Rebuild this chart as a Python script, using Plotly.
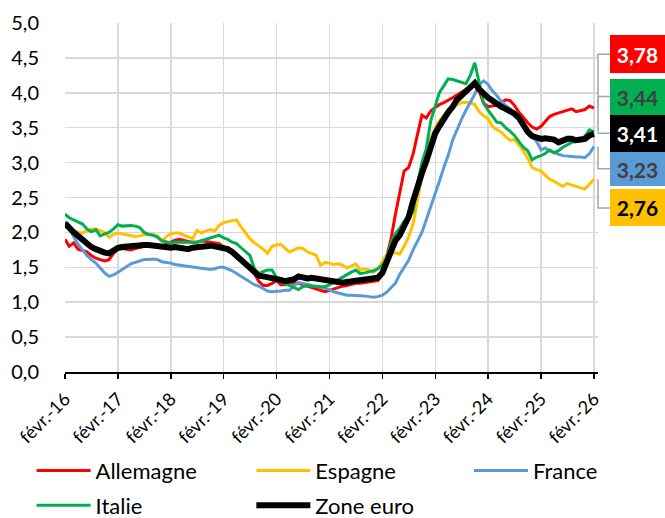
import pandas as pd
import plotly.graph_objects as go

# ---------------- data ----------------
dates = pd.date_range("2016-02-01", periods=121, freq="MS")

allemagne = [
    1.90, 1.80, 1.85, 1.76, 1.74, 1.72, 1.67, 1.63, 1.61, 1.59, 1.61, 1.70,
    1.76, 1.77, 1.76, 1.75, 1.77, 1.79, 1.80, 1.81, 1.81, 1.80, 1.81, 1.83,
    1.86, 1.89, 1.90, 1.88, 1.87, 1.86, 1.86, 1.88, 1.87, 1.86, 1.86, 1.84,
    1.79, 1.74, 1.70, 1.64, 1.60, 1.55, 1.52, 1.40, 1.30, 1.24, 1.24, 1.27,
    1.31, 1.25, 1.25, 1.27, 1.28, 1.27, 1.25, 1.23, 1.20, 1.18, 1.16, 1.15,
    1.17, 1.19, 1.21, 1.23, 1.24, 1.26, 1.27, 1.27, 1.28, 1.29, 1.30, 1.31,
    1.40, 1.62, 1.90, 2.25, 2.55, 2.88, 2.93, 3.12, 3.40, 3.68, 3.64, 3.74,
    3.79, 3.83, 3.86, 3.89, 3.93, 3.97, 4.01, 4.06, 4.10, 4.13, 4.03, 3.85,
    3.80, 3.81, 3.82, 3.86, 3.90, 3.89, 3.82, 3.72, 3.64, 3.57, 3.51, 3.48,
    3.52, 3.59, 3.66, 3.69, 3.71, 3.72, 3.75, 3.77, 3.73, 3.74, 3.76, 3.81,
    3.78,
]

espagne = [
    2.13, 2.05, 2.02, 2.00, 1.99, 2.02, 2.05, 2.05, 2.03, 2.00, 1.93, 1.97,
    1.99, 1.98, 1.97, 1.96, 1.94, 1.95, 1.97, 1.97, 1.97, 1.95, 1.87, 1.94,
    1.98, 1.99, 1.99, 1.96, 1.94, 1.91, 2.03, 1.99, 2.02, 2.04, 2.02, 2.10,
    2.14, 2.15, 2.16, 2.18, 2.08, 2.00, 1.91, 1.85, 1.81, 1.76, 1.70, 1.80,
    1.82, 1.83, 1.77, 1.72, 1.75, 1.78, 1.77, 1.72, 1.70, 1.67, 1.53, 1.57,
    1.56, 1.54, 1.55, 1.53, 1.49, 1.52, 1.55, 1.46, 1.48, 1.46, 1.43, 1.48,
    1.58, 1.68, 1.72, 1.71, 1.69, 1.80, 1.93, 2.12, 2.45, 2.80, 3.07, 3.35,
    3.50, 3.60, 3.67, 3.73, 3.79, 3.83, 3.86, 3.86, 3.86, 3.83, 3.73, 3.67,
    3.63, 3.52, 3.47, 3.44, 3.37, 3.32, 3.33, 3.25, 3.17, 3.06, 2.93, 2.90,
    2.88, 2.82, 2.76, 2.73, 2.70, 2.66, 2.70, 2.68, 2.67, 2.65, 2.62, 2.69,
    2.76,
]

france = [
    2.16, 2.05, 1.93, 1.83, 1.75, 1.67, 1.61, 1.56, 1.49, 1.42, 1.37, 1.39,
    1.43, 1.47, 1.52, 1.55, 1.57, 1.59, 1.61, 1.61, 1.62, 1.61, 1.58, 1.57,
    1.56, 1.54, 1.53, 1.52, 1.51, 1.50, 1.49, 1.48, 1.48, 1.47, 1.48, 1.50,
    1.50, 1.48, 1.45, 1.41, 1.37, 1.32, 1.28, 1.25, 1.23, 1.20, 1.16, 1.15,
    1.15, 1.16, 1.17, 1.17, 1.24, 1.28, 1.27, 1.25, 1.24, 1.23, 1.21, 1.20,
    1.18, 1.15, 1.13, 1.11, 1.10, 1.10, 1.10, 1.10, 1.09, 1.08, 1.07, 1.08,
    1.10, 1.14, 1.20, 1.27, 1.40, 1.50, 1.60, 1.75, 1.88, 2.00, 2.18, 2.36,
    2.55, 2.73, 2.93, 3.10, 3.32, 3.48, 3.62, 3.75, 3.86, 3.98, 4.12, 4.17,
    4.12, 4.03, 3.96, 3.88, 3.82, 3.77, 3.72, 3.63, 3.56, 3.47, 3.39, 3.30,
    3.18, 3.21, 3.17, 3.14, 3.12, 3.10, 3.09, 3.08, 3.08, 3.08, 3.07, 3.13,
    3.23,
]

italie = [
    2.26, 2.21, 2.18, 2.15, 2.12, 2.05, 2.01, 2.04, 1.95, 1.98, 2.00, 2.05,
    2.11, 2.09, 2.10, 2.10, 2.09, 2.07, 2.00, 1.97, 1.96, 1.93, 1.88, 1.86,
    1.85, 1.86, 1.86, 1.87, 1.86, 1.86, 1.86, 1.88, 1.90, 1.91, 1.94, 1.96,
    1.92, 1.90, 1.86, 1.84, 1.78, 1.72, 1.67, 1.48, 1.41, 1.44, 1.46, 1.46,
    1.35, 1.30, 1.26, 1.24, 1.21, 1.18, 1.22, 1.24, 1.23, 1.22, 1.22, 1.22,
    1.25, 1.28, 1.32, 1.36, 1.39, 1.43, 1.46, 1.41, 1.42, 1.43, 1.45, 1.48,
    1.53, 1.63, 1.84, 1.98, 2.06, 2.16, 2.20, 2.30, 2.70, 3.00, 3.20, 3.60,
    3.83, 4.00, 4.10, 4.20, 4.19, 4.17, 4.15, 4.13, 4.25, 4.43, 4.15, 3.85,
    3.75, 3.67, 3.58, 3.57, 3.50, 3.45, 3.39, 3.30, 3.22, 3.17, 3.04, 3.08,
    3.10, 3.13, 3.18, 3.14, 3.17, 3.22, 3.25, 3.29, 3.30, 3.32, 3.38, 3.47,
    3.44,
]

zone_euro = [
    2.13, 2.06, 2.00, 1.95, 1.89, 1.83, 1.79, 1.76, 1.73, 1.71, 1.70, 1.74,
    1.78, 1.79, 1.80, 1.80, 1.81, 1.81, 1.82, 1.82, 1.81, 1.80, 1.79, 1.78,
    1.78, 1.79, 1.78, 1.77, 1.76, 1.78, 1.79, 1.79, 1.80, 1.81, 1.80, 1.79,
    1.79, 1.76, 1.72, 1.66, 1.61, 1.55, 1.49, 1.44, 1.38, 1.37, 1.36, 1.36,
    1.35, 1.32, 1.30, 1.31, 1.33, 1.37, 1.35, 1.34, 1.35, 1.34, 1.32, 1.31,
    1.30, 1.29, 1.28, 1.28, 1.29, 1.30, 1.30, 1.31, 1.31, 1.32, 1.33, 1.35,
    1.42, 1.57, 1.74, 1.88, 1.96, 2.08, 2.22, 2.45, 2.68, 2.85, 3.02, 3.25,
    3.42, 3.52, 3.63, 3.72, 3.80, 3.90, 3.96, 4.02, 4.09, 4.14, 4.05, 3.98,
    3.93, 3.89, 3.84, 3.80, 3.77, 3.74, 3.70, 3.64, 3.54, 3.44, 3.38, 3.35,
    3.34, 3.35, 3.34, 3.33, 3.29, 3.32, 3.34, 3.34, 3.32, 3.33, 3.34, 3.39,
    3.41,
]

series_names = ["Allemagne", "Espagne", "France", "Italie", "Zone euro"]
series_values = [allemagne, espagne, france, italie, zone_euro]

tick_dates = pd.date_range("2016-02-01", periods=11, freq="12MS")
tick_labels = ["févr.-16", "févr.-17", "févr.-18", "févr.-19", "févr.-20",
               "févr.-21", "févr.-22", "févr.-23", "févr.-24", "févr.-25",
               "févr.-26"]

# ---------------- styling ----------------
FONT = "Lato"
colors = {"Allemagne": "#FF0000", "Espagne": "#FFC000", "France": "#5B9BD5",
          "Italie": "#00B050", "Zone euro": "#000000"}
widths = {"Allemagne": 3, "Espagne": 3, "France": 3, "Italie": 3, "Zone euro": 6}
legend_of = {"Allemagne": "legend", "Italie": "legend",
             "Espagne": "legend2", "Zone euro": "legend2",
             "France": "legend3"}
label_text_colors = {"Allemagne": "#FFFFFF", "Espagne": "#000000", "France": "#404040",
                     "Italie": "#404040", "Zone euro": "#FFFFFF"}
# vertical placement of the end-value boxes (in axis units) and their heights (px)
label_pos = {"Allemagne": 4.553, "Italie": 3.946, "Zone euro": 3.421,
             "France": 2.911, "Espagne": 2.35}
label_h = {"Allemagne": 38, "Italie": 36, "Zone euro": 37, "France": 34, "Espagne": 37}

fig = go.Figure()
for name, vals in zip(series_names, series_values):
    fig.add_trace(go.Scatter(
        x=dates, y=vals, name=name, mode="lines",
        line=dict(color=colors[name], width=widths[name]),
        legend=legend_of[name], legendgroup=name,
        hoverinfo="skip",
    ))

box_x = 1.0225
for name, vals in zip(series_names, series_values):
    last = vals[-1]
    ly = label_pos[name]
    fig.add_shape(type="path", xref="paper", yref="y",
                  path=f"M 1.0,{last} L 1.0,{ly} L {box_x},{ly}",
                  line=dict(color="#A6A6A6", width=1.5))
    fig.add_annotation(
        xref="paper", yref="y", x=box_x, y=ly, xanchor="left", yanchor="middle",
        text="<b>" + f"{last:.2f}".replace(".", ",") + "</b>",
        showarrow=False, bgcolor=colors[name], width=55, height=label_h[name],
        borderpad=0, borderwidth=0, align="center", valign="middle",
        font=dict(family=FONT, size=21, color=label_text_colors[name]),
    )

legend_common = dict(orientation="v", xanchor="left", y=-0.2229, yanchor="top",
                     font=dict(family=FONT, size=22, color="#000000"),
                     itemwidth=54, tracegroupgap=3, bgcolor="rgba(0,0,0,0)",
                     borderwidth=0)

fig.update_layout(
    width=665, height=518,
    margin=dict(l=64.5, r=67, t=22.5, b=145.5, autoexpand=False),
    paper_bgcolor="white", plot_bgcolor="white",
    separators=", ",
    font=dict(family=FONT, size=20, color="#000000"),
    showlegend=True,
    legend=dict(x=-0.0627, **legend_common),
    legend2=dict(x=0.3496, **legend_common),
    legend3=dict(x=0.758, **legend_common),
    xaxis=dict(type="date", range=["2016-02-01", "2026-03-01"],
               tickvals=tick_dates, ticktext=tick_labels, tickangle=-45,
               tickfont=dict(family=FONT, size=18, color="#000000"),
               showgrid=True, gridcolor="#D9D9D9", gridwidth=1.5,
               showline=True, linecolor="#000000", linewidth=1.5,
               ticks="outside", ticklen=5, tickcolor="#000000", tickwidth=1.5,
               ticklabelstandoff=3,
               zeroline=False, fixedrange=True, automargin=False),
    yaxis=dict(range=[0, 5], dtick=0.5, tick0=0, tickformat=".1f",
               tickfont=dict(family=FONT, size=20, color="#000000"),
               showgrid=True, gridcolor="#D9D9D9", gridwidth=1.5,
               showline=False, zeroline=False, ticks="",
               ticklabelstandoff=25, fixedrange=True, automargin=False),
)

fig.write_html(
    "out.html",
    config={"displayModeBar": False, "staticPlot": True},
    post_script="document.body.style.margin='0px';document.body.style.padding='0px';"
                "document.documentElement.style.overflow='hidden';",
)
